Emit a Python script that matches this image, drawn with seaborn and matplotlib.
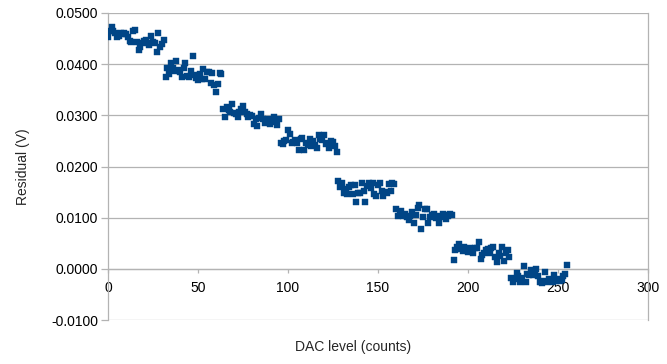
import numpy as np
import pandas as pd
import matplotlib
matplotlib.use("Agg")
import matplotlib.pyplot as plt
import seaborn as sns

# residual per DAC code in blocks of 32 codes
seg0 = [0.0454, 0.0465, 0.0473, 0.0464, 0.0460, 0.0454, 0.0456, 0.0460,
        0.0459, 0.0461, 0.0459, 0.0454, 0.0446, 0.0443, 0.0464, 0.0467,
        0.0443, 0.0428, 0.0434, 0.0441, 0.0445, 0.0447, 0.0441, 0.0438,
        0.0456, 0.0443, 0.0441, 0.0424, 0.0460, 0.0434, 0.0439, 0.0447]
seg1 = [0.0374, 0.0393, 0.0380, 0.0402, 0.0392, 0.0386, 0.0406, 0.0389,
        0.0384, 0.0374, 0.0392, 0.0402, 0.0376, 0.0374, 0.0387, 0.0415,
        0.0379, 0.0373, 0.0369, 0.0380, 0.0371, 0.0391, 0.0371, 0.0384,
        0.0384, 0.0363, 0.0382, 0.0360, 0.0346, 0.0361, 0.0382, 0.0380]
seg2 = [0.0312, 0.0297, 0.0316, 0.0310, 0.0306, 0.0323, 0.0304, 0.0302,
        0.0296, 0.0306, 0.0312, 0.0318, 0.0307, 0.0303, 0.0297, 0.0300,
        0.0298, 0.0284, 0.0293, 0.0279, 0.0295, 0.0302, 0.0293, 0.0285,
        0.0290, 0.0293, 0.0283, 0.0290, 0.0296, 0.0286, 0.0281, 0.0292]
seg3 = [0.0245, 0.0243, 0.0250, 0.0251, 0.0271, 0.0263, 0.0245, 0.0248,
        0.0251, 0.0246, 0.0233, 0.0254, 0.0256, 0.0232, 0.0245, 0.0242,
        0.0253, 0.0240, 0.0249, 0.0242, 0.0236, 0.0261, 0.0254, 0.0251,
        0.0262, 0.0244, 0.0245, 0.0236, 0.0250, 0.0247, 0.0240, 0.0229]
seg4 = [0.0171, 0.0160, 0.0168, 0.0149, 0.0156, 0.0146, 0.0160, 0.0163,
        0.0146, 0.0164, 0.0131, 0.0149, 0.0149, 0.0168, 0.0153, 0.0130,
        0.0162, 0.0168, 0.0158, 0.0168, 0.0146, 0.0142, 0.0163, 0.0168,
        0.0153, 0.0142, 0.0150, 0.0149, 0.0166, 0.0152, 0.0167, 0.0165]
seg5 = [0.0116, 0.0103, 0.0111, 0.0113, 0.0103, 0.0107, 0.0102, 0.0096,
        0.0103, 0.0111, 0.0090, 0.0105, 0.0118, 0.0124, 0.0077, 0.0101,
        0.0116, 0.0116, 0.0090, 0.0101, 0.0105, 0.0107, 0.0100, 0.0103,
        0.0090, 0.0101, 0.0107, 0.0105, 0.0098, 0.0103, 0.0107, 0.0105]
seg6 = [0.0018, 0.0036, 0.0042, 0.0049, 0.0039, 0.0034, 0.0042, 0.0038,
        0.0033, 0.0041, 0.0036, 0.0031, 0.0041, 0.0040, 0.0053, 0.0020,
        0.0028, 0.0031, 0.0036, 0.0038, 0.0031, 0.0041, 0.0042, 0.0023,
        0.0014, 0.0031, 0.0025, 0.0042, 0.0016, 0.0031, 0.0036, 0.0024]
seg7 = [-0.0018, -0.0025, -0.0019, -0.0008, -0.0014, -0.0025, -0.0018, 0.0005,
        -0.0026, -0.0010, -0.0012, -0.0002, -0.0012, -0.0008, 0.0000, -0.0014,
        -0.0025, -0.0027, -0.0023, -0.0007, -0.0025, -0.0020, -0.0023, -0.0025,
        -0.0012, -0.0023, -0.0020, -0.0023, -0.0021, -0.0014, -0.0010, 0.0008]

residual = seg0 + seg1 + seg2 + seg3 + seg4 + seg5 + seg6 + seg7
dac = list(range(len(residual)))

x_ticks = [0, 50, 100, 150, 200, 250, 300]
y_ticks = [-0.01, 0.0, 0.01, 0.02, 0.03, 0.04, 0.05]

df = pd.DataFrame({"dac": dac, "residual": residual})

sns.set_style("white")
plt.rcParams["font.family"] = ["Liberation Sans", "DejaVu Sans"]
plt.rcParams["font.size"] = 10

grey = "#b3b3b3"
blue = "#004586"

fig = plt.figure(figsize=(6.67, 3.64), dpi=100)
ax = fig.add_axes([108 / 667, 1 - 320 / 364, 540 / 667, 307 / 364])

sns.scatterplot(data=df, x="dac", y="residual", marker="s", s=14,
                color=blue, edgecolor=blue, linewidth=0.3, ax=ax, zorder=3)

ax.set_xlim(0, 300)
ax.set_ylim(-0.01, 0.05)
ax.set_xticks(x_ticks)
ax.set_yticks(y_ticks)
ax.set_yticklabels([f"{v:.4f}" for v in y_ticks])
ax.set_xlabel("")
ax.set_ylabel("")

ax.set_axisbelow(True)
ax.yaxis.grid(True, color=grey, linewidth=0.9)
ax.xaxis.grid(False)

ax.spines["bottom"].set_position(("data", 0))
for side in ["left", "bottom", "right"]:
    ax.spines[side].set_color(grey)
    ax.spines[side].set_linewidth(0.9)
ax.spines["top"].set_visible(False)

ax.tick_params(axis="y", left=True, length=5, width=0.9, color=grey, pad=2,
               labelsize=10, labelcolor="black")
ax.tick_params(axis="x", bottom=True, length=3, width=0.9, color=grey, pad=6,
               labelsize=10, labelcolor="black")

fig.text(353 / 667, 1 - 347 / 364, "DAC level (counts)", ha="center",
         va="center", fontsize=10)
fig.text(23 / 667, 1 - 167 / 364, "Residual (V)", ha="center", va="center",
         rotation=90, fontsize=10)

fig.savefig("out.png", dpi=100)
